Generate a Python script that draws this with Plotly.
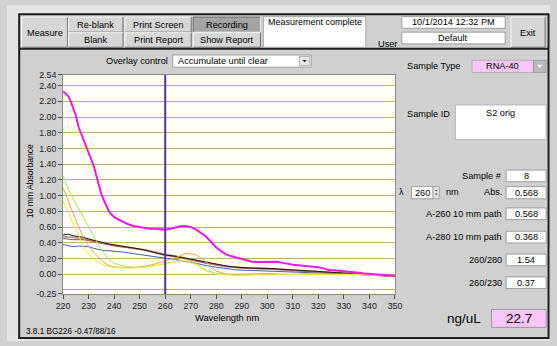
import plotly.graph_objects as go

W, H = 557, 346

# ---------------- data ----------------
mag_nm = [220, 221, 222, 223, 224, 225, 226, 227, 228, 229, 230, 231, 232, 233, 234, 235, 236, 237, 238, 239,
          240, 242, 244, 246, 248, 250, 252, 254, 256, 258, 260, 262, 264, 266, 268, 270, 272, 274, 276, 278,
          280, 282, 284, 286, 288, 290, 292, 294, 296, 298, 300, 302, 304, 306, 308, 310, 312, 314, 316, 318,
          320, 322, 324, 326, 328, 330, 332, 334, 336, 338, 340, 342, 344, 346, 348, 350]
mag_abs = [2.33, 2.30, 2.27, 2.20, 2.12, 2.02, 1.88, 1.80, 1.71, 1.62, 1.55, 1.46, 1.38, 1.26, 1.12, 1.02, 0.94, 0.87, 0.80, 0.76,
           0.73, 0.69, 0.655, 0.63, 0.61, 0.60, 0.59, 0.58, 0.58, 0.575, 0.568, 0.58, 0.60, 0.61, 0.615, 0.60, 0.57, 0.53, 0.48, 0.41,
           0.34, 0.29, 0.25, 0.23, 0.21, 0.19, 0.175, 0.16, 0.155, 0.155, 0.155, 0.155, 0.16, 0.145, 0.13, 0.12, 0.115, 0.11, 0.10, 0.095,
           0.09, 0.075, 0.055, 0.05, 0.045, 0.035, 0.03, 0.025, 0.02, 0.01, 0.005, 0.0, -0.005, -0.01, -0.015, -0.02]

nm = [220, 222, 224, 226, 228, 230, 232, 234, 236, 238, 240, 244, 248, 252, 256, 260, 264, 268, 272, 276,
      280, 284, 288, 292, 296, 300, 305, 310, 315, 320, 325, 330, 335, 340, 345, 350]

green_abs = [1.25, 1.09, 0.96, 0.84, 0.74, 0.62, 0.49, 0.37, 0.27, 0.19, 0.14, 0.10, 0.09, 0.095, 0.11, 0.135, 0.16, 0.185, 0.14, 0.05,
             0.01, 0.0, -0.01, -0.01, 0.0, 0.005, 0.0, -0.005, 0.0, 0.005, 0.0, -0.005, 0.0, -0.01, -0.015, -0.02]
orange_abs = [1.10, 0.93, 0.77, 0.61, 0.47, 0.36, 0.28, 0.21, 0.15, 0.11, 0.095, 0.085, 0.085, 0.10, 0.13, 0.17, 0.21, 0.265, 0.25, 0.16,
              0.04, 0.0, 0.0, 0.0, 0.005, 0.01, 0.0, 0.0, 0.005, 0.0, -0.005, 0.0, 0.0, -0.01, -0.015, -0.025]
yellow_abs = [0.93, 0.79, 0.65, 0.50, 0.34, 0.25, 0.20, 0.15, 0.115, 0.095, 0.085, 0.08, 0.08, 0.09, 0.11, 0.13, 0.16, 0.17, 0.12, 0.04,
              0.0, -0.01, -0.015, -0.01, -0.01, -0.005, -0.01, -0.005, 0.0, -0.005, 0.0, 0.0, -0.005, -0.01, -0.015, -0.02]
gray_abs = [0.48, 0.47, 0.47, 0.46, 0.455, 0.44, 0.42, 0.405, 0.39, 0.38, 0.37, 0.35, 0.335, 0.31, 0.28, 0.25, 0.23, 0.20, 0.175, 0.15,
            0.12, 0.10, 0.09, 0.08, 0.08, 0.075, 0.065, 0.05, 0.04, 0.03, 0.02, 0.01, 0.0, -0.005, -0.015, -0.025]
black_abs = [0.50, 0.51, 0.49, 0.48, 0.47, 0.45, 0.43, 0.41, 0.40, 0.385, 0.375, 0.355, 0.335, 0.31, 0.275, 0.245, 0.23, 0.205, 0.18, 0.15,
             0.125, 0.105, 0.09, 0.08, 0.075, 0.075, 0.065, 0.05, 0.04, 0.03, 0.02, 0.01, 0.005, 0.0, -0.015, -0.03]
red_abs = [0.46, 0.445, 0.44, 0.44, 0.44, 0.43, 0.415, 0.40, 0.385, 0.37, 0.36, 0.345, 0.33, 0.305, 0.27, 0.24, 0.225, 0.20, 0.17, 0.14,
           0.12, 0.10, 0.085, 0.075, 0.07, 0.07, 0.06, 0.045, 0.035, 0.025, 0.015, 0.01, 0.0, -0.005, -0.015, -0.03]
blue_abs = [0.38, 0.36, 0.35, 0.36, 0.355, 0.35, 0.33, 0.31, 0.30, 0.30, 0.295, 0.28, 0.26, 0.24, 0.22, 0.205, 0.19, 0.16, 0.14, 0.11,
            0.09, 0.07, 0.055, 0.05, 0.045, 0.04, 0.04, 0.035, 0.03, 0.02, 0.01, 0.005, 0.0, -0.005, -0.01, -0.02]

cursor_nm = 260
x_ticks = [220, 230, 240, 250, 260, 270, 280, 290, 300, 310, 320, 330, 340, 350]
y_ticks = [-0.25, 0.0, 0.2, 0.4, 0.6, 0.8, 1.0, 1.2, 1.4, 1.6, 1.8, 2.0, 2.2, 2.4, 2.54]
y_grid = [-0.2, 0.0, 0.2, 0.4, 0.6, 0.8, 1.0, 1.2, 1.4, 1.6, 1.8, 2.0, 2.2, 2.4]

readouts = [("Sample #", "8"), ("A-260 10 mm path", "0.568"), ("A-280 10 mm path", "0.368"),
            ("260/280", "1.54"), ("260/230", "0.37")]
abs_value = "0.568"
conc_value = "22.7"

FONT = "Liberation Sans"
PANEL = "#D0D0D0"
OUTER = "#E4E4E4"

fig = go.Figure()

series = [
    (gray_abs, "#A8A8A8", 2.0),
    (blue_abs, "#3F5FC0", 1.0),
    (red_abs, "#D05858", 1.2),
    (black_abs, "#2A1414", 1.0),
    (green_abs, "#9EE85A", 1.0),
    (orange_abs, "#E8A450", 1.0),
    (yellow_abs, "#EEEE30", 1.0),
]
for vals, col, wd in series:
    fig.add_trace(go.Scatter(x=nm, y=vals, mode="lines", line=dict(color=col, width=wd),
                             hoverinfo="skip", showlegend=False))
fig.add_trace(go.Scatter(x=mag_nm, y=mag_abs, mode="lines", line=dict(color="#EE18E8", width=2),
                         hoverinfo="skip", showlegend=False))
fig.add_trace(go.Scatter(x=[cursor_nm, cursor_nm], y=[-0.25, 2.54], mode="lines",
                         line=dict(color="#5E2F8C", width=2), hoverinfo="skip", showlegend=False))

shapes = []
ann = []


def X(x):
    return x / W


def Y(y):
    return 1 - y / H


def rect(x0, y0, x1, y1, fill, line=None, lw=0):
    shapes.append(dict(type="rect", xref="paper", yref="paper", x0=X(x0), x1=X(x1), y0=Y(y1), y1=Y(y0),
                       fillcolor=fill, line=dict(color=line if line else fill, width=lw), layer="above"))


def seg(x0, y0, x1, y1, color, lw=1):
    shapes.append(dict(type="line", xref="paper", yref="paper", x0=X(x0), x1=X(x1), y0=Y(y0), y1=Y(y1),
                       line=dict(color=color, width=lw), layer="above"))


def tri(cx, cy, s, color):
    path = "M {} {} L {} {} L {} {} Z".format(X(cx - s), Y(cy - s / 2), X(cx + s), Y(cy - s / 2), X(cx), Y(cy + s / 2))
    shapes.append(dict(type="path", xref="paper", yref="paper", path=path, fillcolor=color,
                       line=dict(color=color, width=0), layer="above"))


def text(x, y, s, size=9.2, xanchor="center", color="#000000", angle=0):
    ann.append(dict(xref="paper", yref="paper", x=X(x), y=Y(y), text=s, showarrow=False, xanchor=xanchor,
                    yanchor="middle", textangle=angle, font=dict(family=FONT, size=size, color=color)))


def button(x0, y0, x1, y1, label, pressed=False):
    fill = "#A4A4A4" if pressed else "#D6D6D6"
    rect(x0, y0, x1, y1, fill)
    hi, lo = ("#6A6A6A", "#E8E8E8") if pressed else ("#F6F6F6", "#6E6E6E")
    seg(x0, y0, x1, y0, hi)
    seg(x0, y0, x0, y1, hi)
    seg(x0, y1, x1, y1, lo)
    seg(x1, y0, x1, y1, lo)
    text((x0 + x1) / 2, (y0 + y1) / 2 + 0.5, label)


def box(x0, y0, x1, y1, label, fill="#FFFFFF", size=9.2, ty=None):
    rect(x0, y0, x1, y1, fill, "#8C8C8C", 0.8)
    text((x0 + x1) / 2, ty if ty is not None else (y0 + y1) / 2, label, size=size)


# outer light strips (window surroundings)
rect(0, 0, W, 8.5, OUTER)
rect(0, 0, 11.5, H, OUTER)
rect(556.5, 0, W, H, OUTER)
rect(0, 344, W, H, OUTER)
# dark frame lines
seg(12, 9.5, 556, 9.5, "#1E1E1E", 2)
seg(12, 45, 556, 45, "#1E1E1E", 2)
seg(12.5, 9, 12.5, 344, "#1E1E1E", 2)
seg(555.5, 9, 555.5, 344, "#1E1E1E", 2)
seg(12, 343, 556, 343, "#1E1E1E", 2)

# toolbar
button(15, 12.5, 62, 43.5, "Measure")
button(63, 12.5, 119, 28, "Re-blank")
button(63, 28.5, 119, 43.5, "Blank")
button(121, 12.5, 189, 28, "Print Screen")
button(121, 28.5, 189, 43.5, "Print Report")
button(191, 12.5, 260, 28, "Recording", pressed=True)
button(191, 28.5, 260, 43.5, "Show Report")
rect(263, 12, 368, 43.5, "#FFFFFF", "#9A9A9A", 0.8)
text(266, 18, "Measurement complete", xanchor="left", size=9)
text(390, 40, "User")
box(405, 12, 511, 24, "10/1/2014 12:32 PM")
box(405, 28, 511, 40, "Default")
button(517, 12.5, 552, 43.5, "Exit")

# overlay control
text(167, 58, "Overlay control", xanchor="right")
rect(170, 51.5, 312, 64, "#FFFFFF", "#8C8C8C", 0.8)
text(173, 58, "Accumulate until clear", xanchor="left")
rect(300, 53, 310.5, 62.5, "#E6E6E6", "#8C8C8C", 0.6)
tri(305.3, 57.8, 2.2, "#202020")

# axis titles / footer
text(23, 181, "10 mm Absorbance", size=8.6, angle=-90)
text(226, 322.5, "Wavelength nm", size=9.3)
text(17, 336.5, "3.8.1 BG226 -0.47/88/16", size=8.2, xanchor="left")

# right panel
text(438, 63, "Sample Type")
rect(477, 57, 540, 69.5, "#F8C6F8", "#9A9A9A", 0.6)
text(508, 62.8, "RNA-40")
rect(540, 57, 553, 69.5, "#B8B8B8", "#8A8A8A", 0.6)
tri(546.5, 63, 3.2, "#F4F4F4")
text(432, 112, "Sample ID")
rect(460, 103, 553, 138.5, "#FFFFFF", "#9A9A9A", 0.6)
text(506, 111.5, "S2 orig")

row_y = [176, 215, 239, 262.5, 286]
for (lab, val), yy in zip(readouts, row_y):
    text(509.5, yy, lab, xanchor="right")
    box(512, yy - 6, 553, yy + 6, val)

# lambda row
text(405, 193, "λ", size=9)
box(415, 187, 437, 199.5, str(cursor_nm))
rect(437, 187, 443.5, 199.5, "#E2E2E2", "#8C8C8C", 0.6)
tri(440.3, 191.3, 1.6, "#606060")
shapes.append(dict(type="path", xref="paper", yref="paper",
                   path="M {} {} L {} {} L {} {} Z".format(X(438.7), Y(195.3), X(441.9), Y(195.3), X(440.3), Y(193.7)),
                   fillcolor="#606060", line=dict(width=0), layer="above"))
text(457, 193, "nm")
text(509.5, 193, "Abs.", xanchor="right")
box(512, 187, 553, 199.5, abs_value)

text(469, 323, "ng/uL", size=13.5)
box(497, 313.5, 553, 332, conc_value, fill="#F8C6F8", size=13.5, ty=323)

fig.update_layout(
    width=W, height=H, margin=dict(l=0, r=0, t=0, b=0),
    paper_bgcolor=PANEL, plot_bgcolor="#FFFFF6",
    shapes=shapes, annotations=ann, showlegend=False,
    xaxis=dict(domain=[X(57.5), X(398)], range=[220, 350], tickvals=x_ticks,
               ticktext=[str(v) for v in x_ticks], showgrid=False, zeroline=False,
               ticks="outside", ticklen=4, tickcolor="#505050", showline=True, linecolor="#8A8A8A",
               linewidth=1, mirror=True, tickfont=dict(family=FONT, size=8.8, color="#222222"), fixedrange=True),
    yaxis=dict(domain=[Y(297.5), Y(71.7)], range=[-0.25, 2.54], tickvals=y_ticks,
               ticktext=["{:.2f}".format(v) for v in y_ticks], showgrid=False, zeroline=False,
               ticks="outside", ticklen=4, tickcolor="#505050", showline=True, linecolor="#8A8A8A",
               linewidth=1, mirror=True, tickfont=dict(family=FONT, size=8.8, color="#222222"),
               minor=dict(tickvals=y_grid, showgrid=True, gridcolor="#B9B460", gridwidth=1.2, ticks=""),
               fixedrange=True),
)

fig.write_html("out.html")
